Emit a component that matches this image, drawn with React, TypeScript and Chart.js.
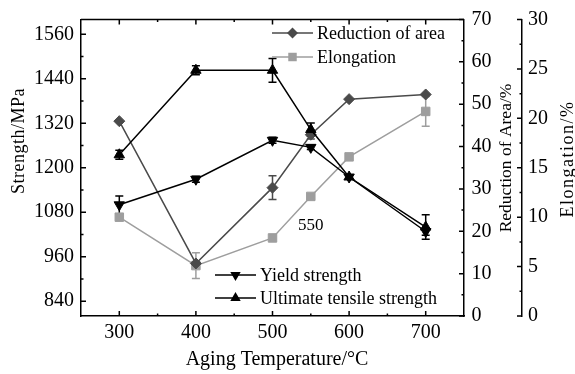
import React, { useEffect, useRef } from "react";
import { Chart, registerables } from "chart.js";

Chart.register(...registerables);

// ---- data ----
const temperatures = [300, 400, 500, 550, 600, 700];
const ultimateStrength = [1235, 1463, 1463, 1303, 1175, 1040];
const ultimateError = [12, 12, 32, 18, 0, 33];
const yieldStrength = [1100, 1169, 1274, 1255, 1175, 1028];
const yieldError = [24, 8, 8, 6, 0, 10];
const reductionOfArea = [46, 12.4, 30.3, 42.8, 51.2, 52.3];
const reductionError = [0, 0, 2.8, 1, 0, 0];
const elongation = [10, 5.1, 7.9, 12.1, 16.1, 20.7];
const elongationError = [0, 1.3, 0, 0, 0, 1.5];

const xTicks = [300, 400, 500, 600, 700];
const xMinorTicks = [350, 450, 550, 650];
const strengthTicks = [840, 960, 1080, 1200, 1320, 1440, 1560];
const strengthMinorTicks = [900, 1020, 1140, 1260, 1380, 1500];
const reductionTicks = [0, 10, 20, 30, 40, 50, 60, 70];
const reductionMinorTicks = [5, 15, 25, 35, 45, 55, 65];
const elongationTicks = [0, 5, 10, 15, 20, 25, 30];
const elongationMinorTicks = [2.5, 7.5, 12.5, 17.5, 22.5, 27.5];

const annotationText = "550";
const annotationX = 550;
const annotationY = 1045;

const SERIF = "'Liberation Serif', 'DejaVu Serif', serif";
const BLACK = "#000000";
const DARK = "#4a4a4a";
const LIGHT = "#9e9e9e";

type MarkerStyle = "up" | "down" | "diamond" | "square";

function drawMarker(ctx: CanvasRenderingContext2D, style: MarkerStyle, x: number, y: number, r: number, color: string) {
  ctx.save();
  ctx.fillStyle = color;
  ctx.beginPath();
  if (style === "up") {
    ctx.moveTo(x, y - r);
    ctx.lineTo(x + r * 0.866, y + r / 2);
    ctx.lineTo(x - r * 0.866, y + r / 2);
    ctx.closePath();
  } else if (style === "down") {
    ctx.moveTo(x, y + r);
    ctx.lineTo(x + r * 0.866, y - r / 2);
    ctx.lineTo(x - r * 0.866, y - r / 2);
    ctx.closePath();
  } else if (style === "diamond") {
    ctx.moveTo(x, y - r);
    ctx.lineTo(x + r, y);
    ctx.lineTo(x, y + r);
    ctx.lineTo(x - r, y);
    ctx.closePath();
  } else {
    const s = r * 0.707;
    ctx.rect(x - s, y - s, 2 * s, 2 * s);
  }
  ctx.fill();
  ctx.restore();
}

const errorBarPlugin = {
  id: "errorBars",
  beforeDatasetsDraw(chart: any) {
    const ctx = chart.ctx as CanvasRenderingContext2D;
    const xs = chart.scales.x;
    const series = [
      { values: ultimateStrength, errors: ultimateError, axis: "y", color: BLACK },
      { values: yieldStrength, errors: yieldError, axis: "y", color: BLACK },
      { values: reductionOfArea, errors: reductionError, axis: "yR", color: DARK },
      { values: elongation, errors: elongationError, axis: "yE", color: LIGHT },
    ];
    ctx.save();
    ctx.lineWidth = 1.5;
    for (const s of series) {
      const ys = chart.scales[s.axis];
      ctx.strokeStyle = s.color;
      s.values.forEach((v, i) => {
        const e = s.errors[i];
        if (!e) return;
        const x = xs.getPixelForValue(temperatures[i]);
        const y1 = ys.getPixelForValue(v + e);
        const y2 = ys.getPixelForValue(v - e);
        ctx.beginPath();
        ctx.moveTo(x, y1);
        ctx.lineTo(x, y2);
        ctx.moveTo(x - 4, y1);
        ctx.lineTo(x + 4, y1);
        ctx.moveTo(x - 4, y2);
        ctx.lineTo(x + 4, y2);
        ctx.stroke();
      });
    }
    ctx.restore();
  },
};

const decorPlugin = {
  id: "decor",
  afterDraw(chart: any) {
    const ctx = chart.ctx as CanvasRenderingContext2D;
    const { x: xs, y: ys, yR, yE } = chart.scales;
    const area = chart.chartArea;
    ctx.save();
    ctx.strokeStyle = BLACK;
    ctx.lineWidth = 1.5;
    // top frame
    ctx.beginPath();
    ctx.moveTo(area.left, area.top);
    ctx.lineTo(area.right, area.top);
    ctx.stroke();

    const MAJ = 5;
    const MIN = 2.5;
    ctx.beginPath();
    const xTick = (v: number, len: number) => {
      const px = xs.getPixelForValue(v);
      ctx.moveTo(px, area.bottom);
      ctx.lineTo(px, area.bottom - len);
      ctx.moveTo(px, area.top);
      ctx.lineTo(px, area.top + len);
    };
    xTicks.forEach((v) => xTick(v, MAJ));
    xMinorTicks.forEach((v) => xTick(v, MIN));
    const leftTick = (v: number, len: number) => {
      const py = ys.getPixelForValue(v);
      ctx.moveTo(area.left, py);
      ctx.lineTo(area.left + len, py);
    };
    strengthTicks.forEach((v) => leftTick(v, MAJ));
    strengthMinorTicks.forEach((v) => leftTick(v, MIN));
    const rTick = (scale: any, v: number, len: number) => {
      const py = scale.getPixelForValue(v);
      ctx.moveTo(scale.left, py);
      ctx.lineTo(scale.left - len, py);
    };
    reductionTicks.forEach((v) => rTick(yR, v, MAJ));
    reductionMinorTicks.forEach((v) => rTick(yR, v, MIN));
    elongationTicks.forEach((v) => rTick(yE, v, MAJ));
    elongationMinorTicks.forEach((v) => rTick(yE, v, MIN));
    ctx.stroke();

    // axis titles
    ctx.fillStyle = BLACK;
    ctx.textAlign = "center";
    ctx.textBaseline = "middle";
    const vTitle = (text: string, x: number, y: number, size: number, spacing: number) => {
      ctx.save();
      ctx.translate(x, y);
      ctx.rotate(-Math.PI / 2);
      ctx.font = `${size}px ${SERIF}`;
      (ctx as any).letterSpacing = `${spacing}px`;
      ctx.fillText(text, 0, 0);
      ctx.restore();
    };
    vTitle("Strength/MPa", 19, 141, 18, 0.5);
    vTitle("Reduction of Area/%", 506, 158, 17.5, 0);
    vTitle("Elongation/%", 568, 159, 18, 1.5);
    ctx.font = `20px ${SERIF}`;
    ctx.fillText("Aging Temperature/\u00B0C", 277, 360);

    // annotation
    ctx.font = `17px ${SERIF}`;
    ctx.fillText(annotationText, xs.getPixelForValue(annotationX), ys.getPixelForValue(annotationY));

    // legends
    const legendItems: { label: string; color: string; marker: MarkerStyle; x0: number; y: number; r: number }[] = [
      { label: "Reduction of area", color: DARK, marker: "diamond", x0: 272, y: 33, r: 5.5 },
      { label: "Elongation", color: LIGHT, marker: "square", x0: 272, y: 57, r: 6 },
      { label: "Yield strength", color: BLACK, marker: "down", x0: 215, y: 275, r: 6 },
      { label: "Ultimate tensile strength", color: BLACK, marker: "up", x0: 215, y: 298, r: 6 },
    ];
    ctx.font = `18px ${SERIF}`;
    ctx.textAlign = "left";
    for (const it of legendItems) {
      ctx.strokeStyle = it.color;
      ctx.lineWidth = 1.5;
      ctx.beginPath();
      ctx.moveTo(it.x0, it.y);
      ctx.lineTo(it.x0 + 41, it.y);
      ctx.stroke();
      drawMarker(ctx, it.marker, it.x0 + 20.5, it.y, it.r, it.color);
      ctx.fillStyle = BLACK;
      ctx.fillText(it.label, it.x0 + 45, it.y + 1);
    }
    ctx.restore();
  },
};

export default function App() {
  const canvasRef = useRef<HTMLCanvasElement | null>(null);

  useEffect(() => {
    document.body.style.margin = "0";
    const canvas = canvasRef.current;
    if (!canvas) return;
    const pts = (vals: number[]) => temperatures.map((x, i) => ({ x, y: vals[i] }));
    const tickFont = { family: SERIF, size: 20 };
    const plain = (v: any) => String(v);
    const chart = new Chart(canvas, {
      type: "line",
      data: {
        datasets: [
          {
            label: "Ultimate tensile strength",
            data: pts(ultimateStrength),
            yAxisID: "y",
            borderColor: BLACK,
            backgroundColor: BLACK,
            pointStyle: "triangle",
            pointRadius: 6,
            pointBorderWidth: 1,
            borderWidth: 1.5,
          },
          {
            label: "Yield strength",
            data: pts(yieldStrength),
            yAxisID: "y",
            borderColor: BLACK,
            backgroundColor: BLACK,
            pointStyle: "triangle",
            pointRotation: 180,
            pointRadius: 6,
            pointBorderWidth: 1,
            borderWidth: 1.5,
          },
          {
            label: "Reduction of area",
            data: pts(reductionOfArea),
            yAxisID: "yR",
            borderColor: DARK,
            backgroundColor: DARK,
            pointStyle: "rectRot",
            pointRadius: 5.5,
            pointBorderWidth: 1,
            borderWidth: 1.5,
          },
          {
            label: "Elongation",
            data: pts(elongation),
            yAxisID: "yE",
            borderColor: LIGHT,
            backgroundColor: LIGHT,
            pointStyle: "rect",
            pointRadius: 6,
            pointBorderWidth: 1,
            borderWidth: 1.5,
          },
        ],
      },
      options: {
        responsive: false,
        animation: false,
        layout: { padding: { top: 17, left: 0, right: 0, bottom: 0 } },
        plugins: { legend: { display: false }, tooltip: { enabled: false } },
        scales: {
          x: {
            type: "linear",
            position: "bottom",
            min: 250,
            max: 750,
            afterBuildTicks: (s: any) => {
              s.ticks = xTicks.map((value) => ({ value }));
            },
            afterFit: (s: any) => {
              s.height = 58;
            },
            grid: { display: false, drawTicks: false },
            border: { display: true, color: BLACK, width: 1.5 },
            ticks: { padding: 5, color: BLACK, font: tickFont, maxRotation: 0, callback: plain },
          },
          y: {
            type: "linear",
            position: "left",
            min: 800,
            max: 1600,
            afterBuildTicks: (s: any) => {
              s.ticks = strengthTicks.map((value) => ({ value }));
            },
            afterFit: (s: any) => {
              s.width = 81;
            },
            grid: { display: false, drawTicks: false },
            border: { display: true, color: BLACK, width: 1.5 },
            ticks: { padding: 7, color: BLACK, font: tickFont, callback: plain },
          },
          yR: {
            type: "linear",
            position: "right",
            min: 0,
            max: 70,
            afterBuildTicks: (s: any) => {
              s.ticks = reductionTicks.map((value) => ({ value }));
            },
            afterFit: (s: any) => {
              s.width = 58;
            },
            grid: { display: false, drawTicks: false },
            border: { display: true, color: BLACK, width: 1.5 },
            ticks: { padding: 7.5, color: BLACK, font: tickFont, callback: plain },
          },
          yE: {
            type: "linear",
            position: "right",
            min: 0,
            max: 30,
            afterBuildTicks: (s: any) => {
              s.ticks = elongationTicks.map((value) => ({ value }));
            },
            afterFit: (s: any) => {
              s.width = 53;
            },
            grid: { display: false, drawTicks: false },
            border: { display: true, color: BLACK, width: 1.5 },
            ticks: { padding: 6, color: BLACK, font: tickFont, callback: plain },
          },
        },
      } as any,
      plugins: [errorBarPlugin, decorPlugin],
    });
    return () => chart.destroy();
  }, []);

  return (
    <div style={{ width: 575, height: 374 }}>
      <canvas ref={canvasRef} width={575} height={374} style={{ display: "block" }} />
    </div>
  );
}
